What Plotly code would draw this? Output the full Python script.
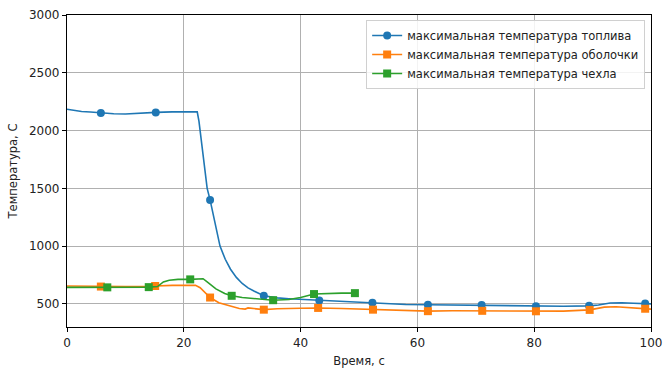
import plotly.graph_objects as go

# --- data ---------------------------------------------------------------
fuel_t = [0, 2.5, 4, 5.8, 8, 10, 12, 15.2, 18, 21.8, 22.3, 22.6, 22.8, 23.4, 24.0, 24.5,
          25.3, 26.2, 27.1, 28, 29, 30, 31, 32, 33.7, 36, 38, 40, 43.2, 46, 49, 52.3, 55, 58,
          61.8, 66, 71.0, 75, 80.3, 85, 89.4, 91, 93, 95, 97, 99.0, 100]
fuel_T = [2185, 2165, 2160, 2152, 2145, 2143, 2150, 2157, 2162, 2166, 2162, 2080, 2000, 1720,
          1500, 1400, 1200, 1000, 886, 800, 729, 677, 639, 611, 571, 552, 545, 540, 530, 522,
          515, 510, 500, 495, 492, 490, 490, 485, 480, 480, 483, 490, 508, 510, 505, 503, 500]
fuel_mark = [5.8, 15.2, 24.5, 33.7, 43.2, 52.3, 61.8, 71.0, 80.3, 89.4, 99.0]

clad_t = [0, 5.8, 10, 14, 15.1, 18, 22, 22.8, 24.5, 26, 28, 29.5, 30.5, 31, 33.7, 36, 40,
          43.0, 47, 52.4, 56, 61.8, 66, 71.1, 76, 80.3, 85, 89.5, 92, 94, 97, 99.0, 100]
clad_T = [655, 650, 650, 650, 655, 660, 660, 640, 555, 510, 480, 460, 455, 465, 450, 458, 462,
          465, 460, 450, 445, 437, 440, 440, 438, 436, 437, 448, 472, 475, 465, 458, 455]
clad_mark = [5.8, 15.1, 24.5, 33.7, 43.0, 52.4, 61.8, 71.1, 80.3, 89.5, 99.0]

case_t = [0, 6.9, 10, 14.0, 15.5, 16.5, 17.5, 19, 21.1, 22.5, 23.3, 24, 25.5, 27, 28.2, 30,
          33, 35.3, 38, 40, 42.3, 44, 47, 49.3]
case_T = [643, 643, 643, 645, 650, 690, 705, 712, 712, 718, 718, 690, 630, 590, 570, 555,
          545, 532, 538, 555, 585, 590, 593, 593]
case_mark = [6.9, 14.0, 21.1, 28.2, 35.3, 42.3, 49.3]

names = ["максимальная температура топлива",
         "максимальная температура оболочки",
         "максимальная температура чехла"]
colors = ["#1f77b4", "#ff7f0e", "#2ca02c"]
symbols = ["circle", "square", "square"]

x_ticks = [0, 20, 40, 60, 80, 100]
y_ticks = [500, 1000, 1500, 2000, 2500, 3000]

FONT = "DejaVu Sans"
fig = go.Figure()

series = [(fuel_t, fuel_T, fuel_mark), (clad_t, clad_T, clad_mark), (case_t, case_T, case_mark)]
for (t, T, mk), name, col, sym in zip(series, names, colors, symbols):
    fig.add_trace(go.Scatter(x=t, y=T, mode="lines", line=dict(color=col, width=1.6),
                             showlegend=False, legendgroup=name, hoverinfo="skip"))
    my = [T[t.index(m)] for m in mk]
    fig.add_trace(go.Scatter(x=mk, y=my, mode="markers",
                             marker=dict(color=col, size=8, symbol=sym, line=dict(width=0)),
                             showlegend=False, legendgroup=name))
    fig.add_trace(go.Scatter(x=[None], y=[None], mode="lines+markers", name=name,
                             line=dict(color=col, width=1.6),
                             marker=dict(color=col, size=8, symbol=sym, line=dict(width=0)),
                             legendgroup=name))

axis_common = dict(showline=True, linecolor="black", linewidth=1.2, mirror=True,
                   showgrid=True, gridcolor="#b0b0b0", gridwidth=1,
                   ticks="outside", ticklen=4, tickcolor="black", tickwidth=1,
                   zeroline=False, automargin=False,
                   tickfont=dict(family=FONT, size=12, color="#222"))

fig.update_xaxes(range=[0, 100], tickvals=x_ticks,
                 title=dict(text="Время, с", font=dict(family=FONT, size=11.5, color="#222"),
                            standoff=8), **axis_common)
fig.update_yaxes(range=[300, 3000], tickvals=y_ticks,
                 title=dict(text="Температура, C", font=dict(family=FONT, size=11.5, color="#222"),
                            standoff=8), **axis_common)

fig.update_layout(
    width=664, height=368,
    margin=dict(l=67, r=13, t=15, b=41, autoexpand=False),
    paper_bgcolor="white", plot_bgcolor="white",
    font=dict(family=FONT, size=11.5, color="#222"),
    legend=dict(x=0.99, y=0.984, xanchor="right", yanchor="top",
                bgcolor="rgba(255,255,255,0.85)", bordercolor="#d0d0d0", borderwidth=1,
                font=dict(family=FONT, size=11.5, color="#222"), itemwidth=30,
                tracegroupgap=0),
)

fig.write_html("out.html")
